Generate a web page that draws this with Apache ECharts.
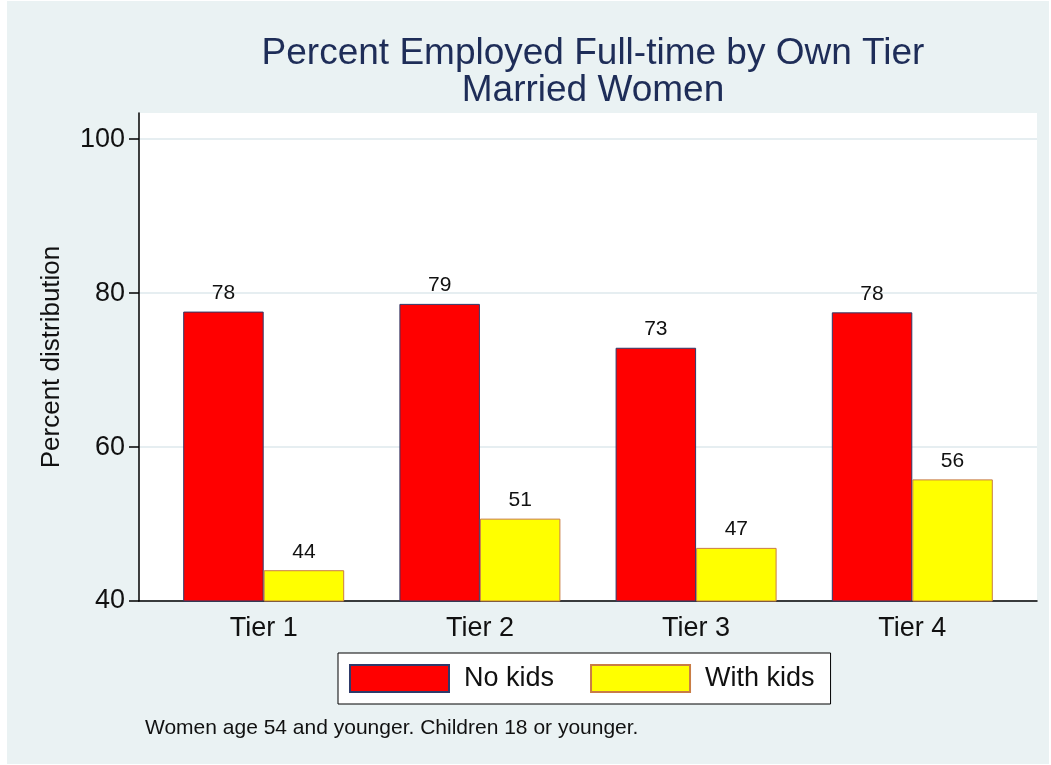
<!DOCTYPE html>
<html>
<head>
<meta charset="utf-8">
<script src="https://cdn.jsdelivr.net/npm/echarts@6.0.0/dist/echarts.min.js"></script>
<style>
	html, body { margin: 0; padding: 0; background: #ffffff; }
	#main { position: absolute; left: 7px; top: 1px; width: 1042px; height: 763px; }
</style>
</head>
<body>
<div id="main"></div>
<script>
//数据
var tiers = ['Tier 1', 'Tier 2', 'Tier 3', 'Tier 4'];
var noKids = [77.6, 78.6, 72.9, 77.5];
var withKids = [44.0, 50.7, 46.9, 55.8];
var yTicks = [40, 60, 80, 100];
var seriesNames = ['No kids', 'With kids'];
var footNote = 'Women age 54 and younger. Children 18 or younger.';

var FONT = '"Liberation Sans", Arial, Helvetica, sans-serif';
var Y_MIN = 40, Y_MAX = 103.4;

var myChart = echarts.init(document.getElementById('main'));

var barLabel = {
	show: true,
	position: 'top',
	distance: 8,
	color: '#111111',
	fontSize: 21,
	fontFamily: FONT,
	formatter: function(p){ return Math.round(p.value); }
};

myChart.setOption({
	backgroundColor: '#eaf2f3',
	animation: false,
	title: [{
		text: 'Percent Employed Full-time by Own Tier\nMarried Women',
		left: 581,
		top: 29,
		textAlign: 'center',
		textStyle: {
			color: '#1e2d58',
			fontSize: 37,
			fontWeight: 'normal',
			fontFamily: FONT,
			lineHeight: 37
		}
	}, {
		text: footNote,
		left: 133,
		top: 712,
		textStyle: {
			color: '#111111',
			fontSize: 21,
			fontWeight: 'normal',
			fontFamily: FONT
		}
	}],
	legend: {
		data: seriesNames,
		left: 331,
		top: 652,
		orient: 'horizontal',
		backgroundColor: '#ffffff',
		borderColor: '#000000',
		borderWidth: 1,
		padding: [11, 16, 11, 11],
		itemWidth: 99,
		itemHeight: 27,
		itemGap: 36,
		icon: 'rect',
		textStyle: {
			color: '#111111',
			fontSize: 27,
			fontFamily: FONT,
			padding: [0, 0, 0, 10]
		}
	},
	grid: [
		//外框：白色绘图区
		{ left: 132, right: 12, top: 112, bottom: 163, show: true, backgroundColor: '#ffffff', borderWidth: 0 },
		//柱子所在区域
		{ left: 148.6, right: 28.6, top: 112, bottom: 163 }
	],
	xAxis: [{
		gridIndex: 0,
		type: 'value',
		min: 0,
		max: 1,
		axisLine: { show: true, onZero: false, lineStyle: { color: '#000000', width: 1.5 } },
		axisTick: { show: false },
		axisLabel: { show: false },
		splitLine: { show: false }
	}, {
		gridIndex: 1,
		type: 'category',
		data: tiers,
		axisLine: { show: false },
		axisTick: { show: false },
		axisLabel: { color: '#111111', fontSize: 27, fontFamily: FONT, margin: 14 },
		splitLine: { show: false }
	}],
	yAxis: [{
		gridIndex: 0,
		type: 'value',
		min: Y_MIN,
		max: Y_MAX,
		name: 'Percent distribution',
		nameLocation: 'middle',
		nameGap: 74,
		nameTextStyle: { color: '#111111', fontSize: 26, fontFamily: FONT },
		axisLine: { show: true, lineStyle: { color: '#000000', width: 1.5 } },
		axisTick: { show: true, length: 10, customValues: yTicks, lineStyle: { color: '#000000', width: 1.5 } },
		axisLabel: { color: '#111111', fontSize: 27, fontFamily: FONT, margin: 14, customValues: yTicks },
		splitLine: { show: true, lineStyle: { color: '#e6eef1', width: 2 } }
	}, {
		gridIndex: 1,
		type: 'value',
		min: Y_MIN,
		max: Y_MAX,
		show: false,
		splitLine: { show: false }
	}],
	series: [{
		name: seriesNames[0],
		type: 'bar',
		xAxisIndex: 1,
		yAxisIndex: 1,
		data: noKids,
		barWidth: 80.5,
		barGap: '0%',
		itemStyle: { color: '#ff0000', borderColor: '#2e3a6a', borderWidth: 1 },
		label: barLabel
	}, {
		name: seriesNames[1],
		type: 'bar',
		xAxisIndex: 1,
		yAxisIndex: 1,
		data: withKids,
		barWidth: 80.5,
		barGap: '0%',
		itemStyle: { color: '#ffff00', borderColor: '#c97d45', borderWidth: 1 },
		label: barLabel
	}]
});
</script>
</body>
</html>
